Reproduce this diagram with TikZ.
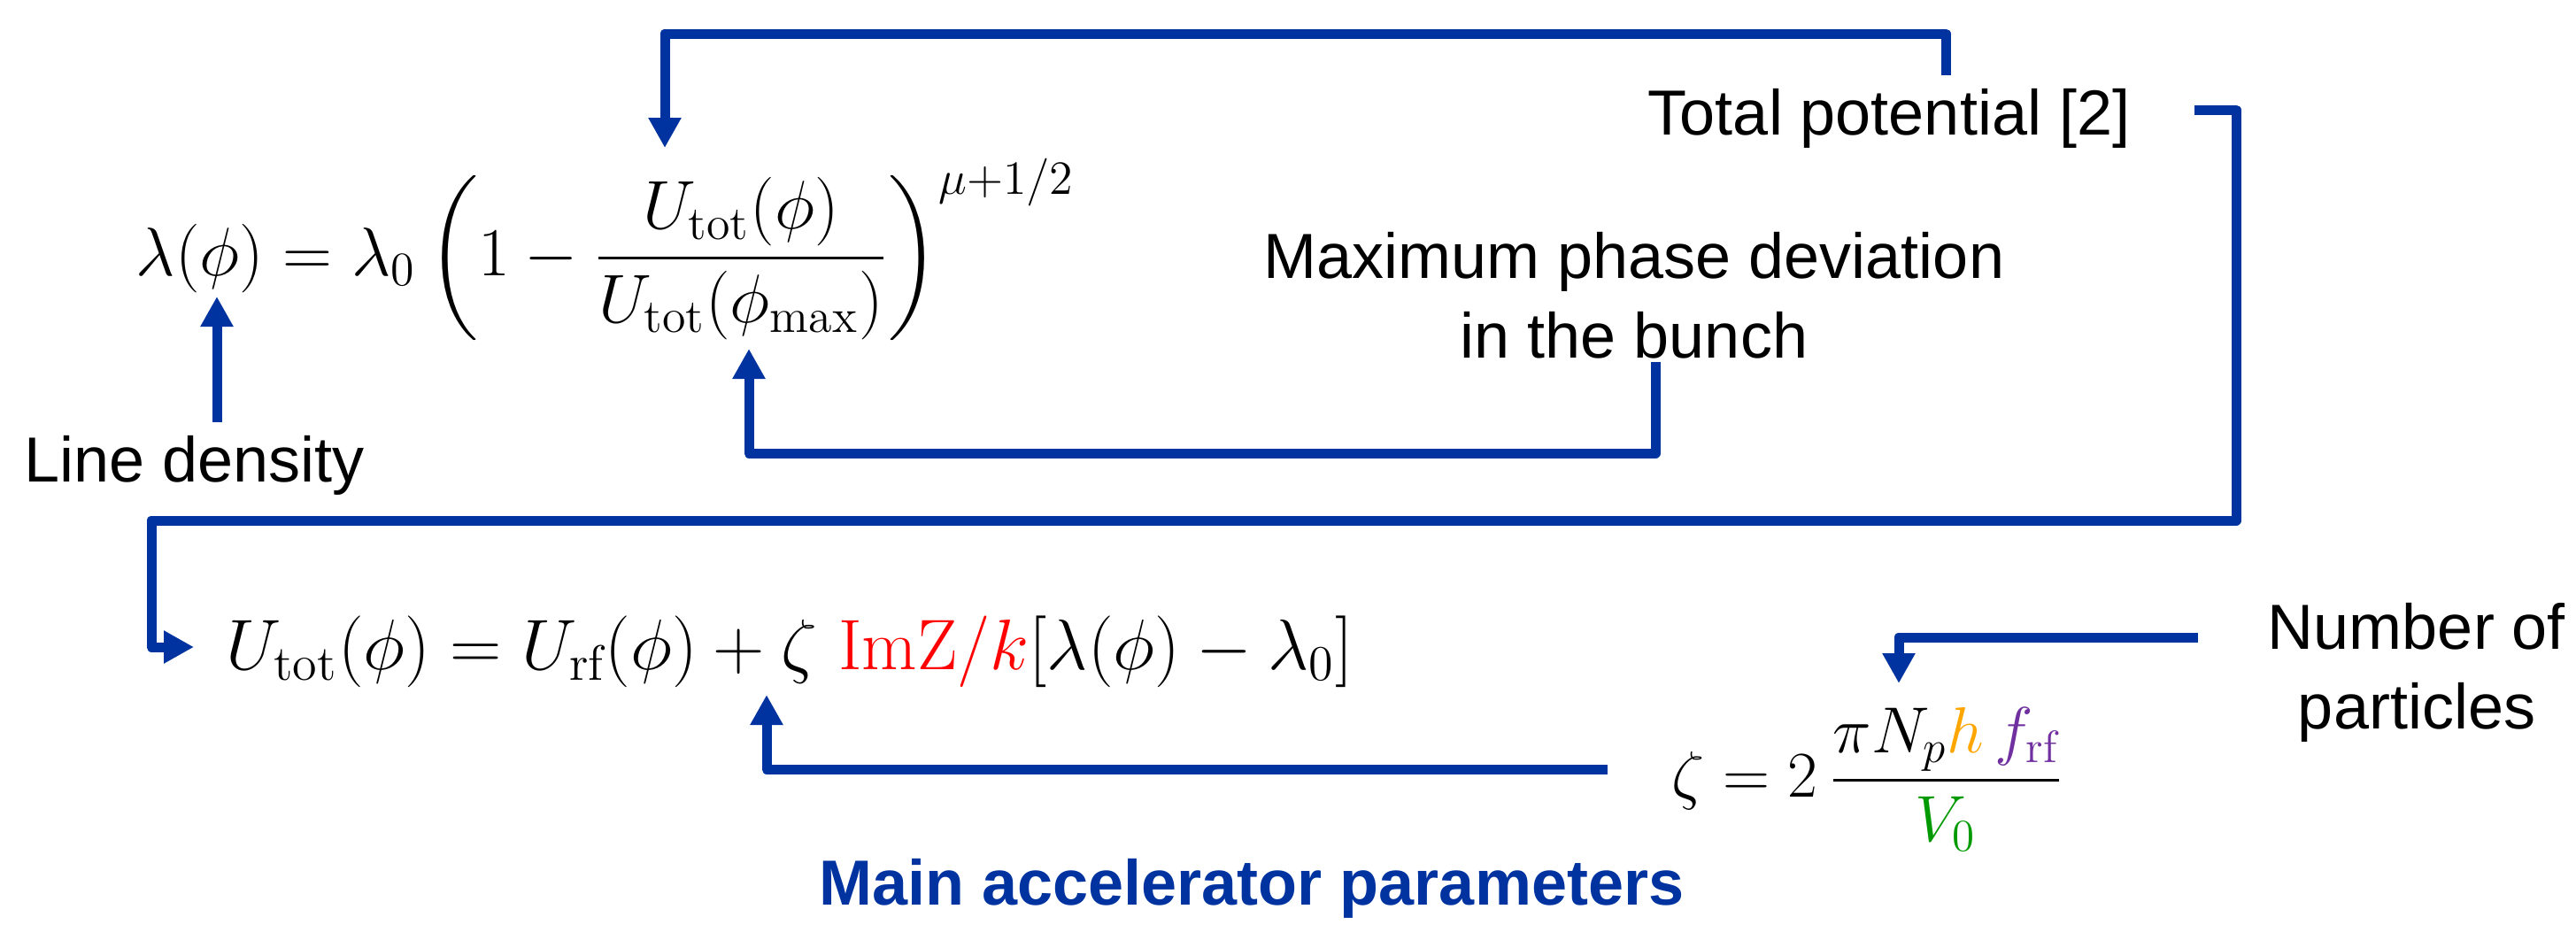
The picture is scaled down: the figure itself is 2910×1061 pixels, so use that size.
\documentclass[tikz,border=0pt]{standalone}
\usepackage{fontspec}
\usepackage{amsmath}
\usepackage{graphicx}
\usetikzlibrary{arrows.meta}
\newfontfamily\arialf{Liberation Sans}
\definecolor{pblue}{RGB}{0,51,160}
\definecolor{porange}{RGB}{255,165,0}
\definecolor{ppurple}{RGB}{112,48,160}
\definecolor{pgreen}{RGB}{0,153,0}
\begin{document}
\begin{tikzpicture}[x=0.25pt,y=-0.25pt,
  lbl/.style={font=\arialf\fontsize{18}{22.5}\selectfont, inner sep=0pt, align=center},
  eq/.style={font=\fontsize{17.28}{20}\selectfont, inner sep=0pt},
  conn/.style={draw=pblue, line width=2.75pt, line join=round,
    -{Triangle[length=8.5pt,width=8.75pt]}}]
\useasboundingbox (0,0) rectangle (2910,1061);

% equations
\node[eq, anchor=base west] (lam) at (153,311)
  {\scalebox{1.123}{$\displaystyle \lambda(\phi)=\lambda_0\left(1-\frac{U_{\mathrm{tot}}(\phi)}{U_{\mathrm{tot}}(\phi_{\max})}\right)^{\mu+1/2}$}};
\node[eq, anchor=base west] (utot) at (255,756)
  {\scalebox{1.17}{$U_{\mathrm{tot}}(\phi)=U_{\mathrm{rf}}(\phi)+\zeta\ {\color{red}\mathrm{Im}\mathrm{Z}/k}[\lambda(\phi)-\lambda_0]$}};
\node[eq, anchor=base west] (zeta) at (1888,900)
  {\scalebox{1.065}{$\displaystyle\zeta=2\,\frac{\pi N_p{\color{porange}h}\,{\color{ppurple}f_{\mathrm{rf}}}}{{\color{pgreen}V_0}}$}};

% labels
\node[lbl, anchor=base] (tp) at (2134,152) {Total potential [2]};
\node[lbl, anchor=base] (mp) at (1846,404) {Maximum phase deviation\\in the bunch};
\node[lbl, anchor=base] (ld) at (220,544) {Line density};
\node[lbl, anchor=base] (np) at (2730,823) {Number of\\particles};
\node[lbl, anchor=base, font=\arialf\bfseries\fontsize{18}{22.5}\selectfont, text=pblue] (map) at (1414,1022) {Main accelerator parameters};

% connector end points
\coordinate (tpS) at (2198,85);
\coordinate (numT) at (751,167);
\coordinate (mpS) at (1870,409);
\coordinate (denT) at (846,394);
\coordinate (ldS) at (245,477);
\coordinate (lamT) at (245,335);
\coordinate (tpE) at (2479,124);
\coordinate (utT) at (219,731);
\coordinate (zS) at (1816,869);
\coordinate (zT) at (866,785);
\coordinate (npS) at (2483,720);
\coordinate (NpT) at (2145,772);

% connectors
\draw[conn] (tpS) -- (2198,38) -| (numT);
\draw[conn] (mpS) -- (1870,512) -| (denT);
\draw[conn] (ldS) -- (lamT);
\draw[conn] (tpE) -- (2526,124) -- (2526,588) -- (171,588) -- (171,731) -- (utT);
\draw[conn] (zS) -| (zT);
\draw[conn] (npS) -| (NpT);
\end{tikzpicture}
\end{document}
